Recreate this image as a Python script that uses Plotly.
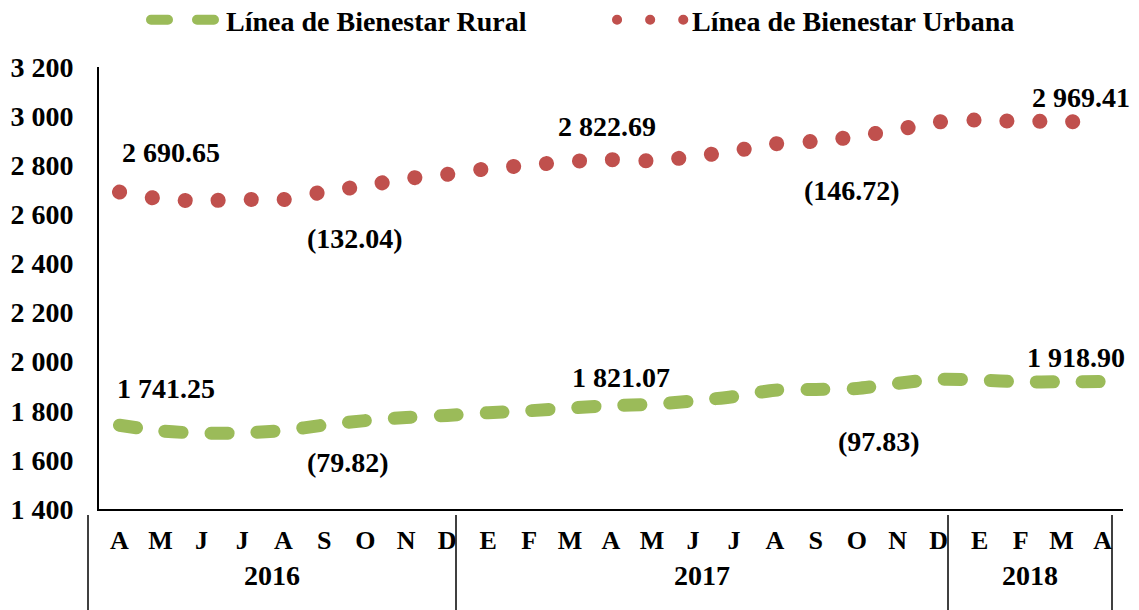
import plotly.graph_objects as go

# ---------------- data ----------------
periods = ["2016-04", "2016-05", "2016-06", "2016-07", "2016-08", "2016-09", "2016-10",
           "2016-11", "2016-12", "2017-01", "2017-02", "2017-03", "2017-04", "2017-05",
           "2017-06", "2017-07", "2017-08", "2017-09", "2017-10", "2017-11", "2017-12",
           "2018-01", "2018-02", "2018-03", "2018-04"]
months = ["A", "M", "J", "J", "A", "S", "O", "N", "D",
          "E", "F", "M", "A", "M", "J", "J", "A", "S", "O", "N", "D",
          "E", "F", "M", "A"]
years = ["2016", "2017", "2018"]

urbana = [2690.65, 2663, 2655, 2661, 2660, 2692, 2716, 2745, 2763, 2786, 2800, 2815,
          2822.69, 2818, 2835, 2858, 2887, 2898, 2917, 2945, 2976, 2984, 2978, 2979, 2969.41]
rural = [1741.25, 1718, 1709, 1710, 1720, 1742, 1760, 1773, 1781, 1792, 1800, 1811,
         1821.07, 1826, 1840, 1858, 1884, 1887, 1891, 1912, 1928, 1925, 1918, 1918, 1918.90]

name_rural = "Línea de Bienestar Rural"
name_urbana = "Línea de Bienestar Urbana"

# ---------------- layout constants ----------------
FIG_W, FIG_H = 1139, 610
L, T, R, B = 99, 67, 16, 101
PW, PH = FIG_W - L - R, FIG_H - T - B
FONT = "Liberation Serif"
RED = "#C0504D"
GREEN = "#9BBB59"


def px_x(p):
    return (p - L) / PW


def px_y(p):
    return 1 - (p - T) / PH


fig = go.Figure()
fig.add_trace(go.Scatter(
    x=periods, y=rural, name=name_rural, mode="lines",
    line=dict(color=GREEN, width=13, dash="17px,29px", shape="spline", smoothing=0.8),
))
fig.add_trace(go.Scatter(
    x=periods, y=urbana, name=name_urbana, mode="lines",
    line=dict(color=RED, width=15, dash="0.1px,33px", shape="spline", smoothing=0.8),
))

lab_font = dict(family=FONT, size=28, color="black", weight="bold")
ann = []
# value labels at first, middle and last point: (series, index, anchor, xshift, yshift)
for series, idx, anc, xs, ys in [
    (urbana, 0, "left", 1, 40), (urbana, 12, "center", -4, 33), (urbana, 24, "right", 29, 26),
    (rural, 0, "left", -4, 37), (rural, 12, "center", 10, 28), (rural, 24, "right", 24, 24),
]:
    v = series[idx]
    txt = f"{v:,.2f}".replace(",", " ")
    ann.append(dict(x=idx, y=v, xref="x", yref="y", text=txt, showarrow=False,
                    xanchor=anc, xshift=xs, yshift=ys, font=lab_font))

# annual change labels
for series, a, b, xi, yv in [
    (urbana, 0, 12, 5.76, 2503), (urbana, 12, 24, 17.88, 2699),
    (rural, 0, 12, 5.59, 1591), (rural, 12, 24, 18.54, 1673),
]:
    ann.append(dict(x=xi, y=yv, xref="x", yref="y",
                    text=f"({series[b] - series[a]:.2f})", showarrow=False, font=lab_font))

# year group labels and separators
sep_px = [88, 456, 948, 1112]
for i, yr in enumerate(years):
    cx = (sep_px[i] + sep_px[i + 1]) / 2
    ann.append(dict(x=px_x(cx), y=px_y(575), xref="paper", yref="paper", text=yr,
                    showarrow=False, font=lab_font, xanchor="center", yanchor="middle"))

shapes = []
for s in sep_px:
    shapes.append(dict(type="line", xref="paper", yref="paper",
                       x0=px_x(s), x1=px_x(s), y0=px_y(515), y1=px_y(612),
                       line=dict(color="black", width=1.5)))

fig.update_layout(
    width=FIG_W, height=FIG_H,
    margin=dict(l=L, r=R, t=T, b=B, pad=0, autoexpand=False),
    paper_bgcolor="white", plot_bgcolor="white",
    separators=". ",
    font=dict(family=FONT, size=26, color="black", weight="bold"),
    showlegend=True,
    legend=dict(orientation="h", xref="container", yref="container",
                x=146 / FIG_W, xanchor="left", y=1 - 20 / FIG_H, yanchor="middle",
                font=dict(family=FONT, size=28, color="black", weight="bold"),
                itemwidth=70, entrywidth=381, entrywidthmode="pixels",
                bgcolor="rgba(0,0,0,0)"),
    annotations=ann,
    shapes=shapes,
    xaxis=dict(type="category", range=[-0.5, 24.5], tickmode="array",
               tickvals=periods, ticktext=months, showgrid=False, zeroline=False,
               showline=True, linecolor="black", linewidth=2, ticks="",
               ticklabelstandoff=7, automargin=False,
               tickfont=dict(family=FONT, size=26, color="black", weight="bold")),
    yaxis=dict(range=[1400, 3200], dtick=200, tickformat=",d", showgrid=False,
               zeroline=False, showline=True, linecolor="black", linewidth=2, ticks="",
               ticklabelstandoff=18, automargin=False,
               tickfont=dict(family=FONT, size=28, color="black", weight="bold")),
)

post = ("document.body.style.margin='0';"
        "var s=document.createElement('style');"
        "s.innerHTML='body{margin:0;} .js-line{stroke-linecap:round;}';"
        "document.head.appendChild(s);")
fig.write_html("out.html", post_script=post, config={"displayModeBar": False})
